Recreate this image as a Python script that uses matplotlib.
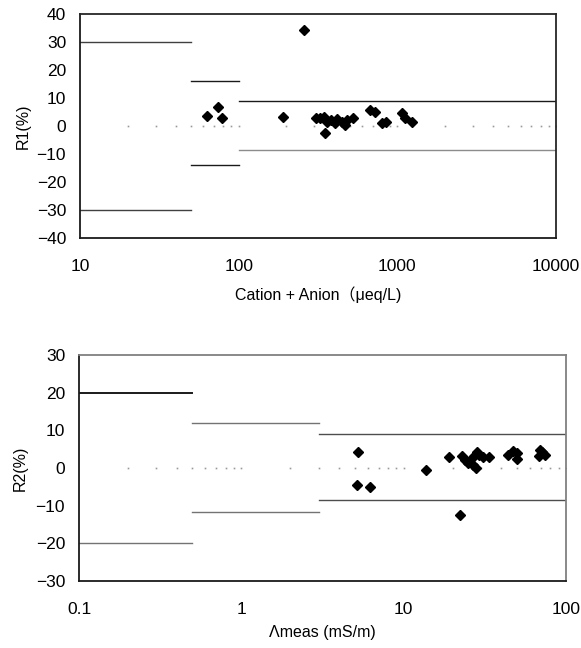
import matplotlib.pyplot as plt
import numpy as np

plt.rcParams['font.family'] = ['Liberation Sans', 'Noto Sans CJK JP', 'DejaVu Sans']

# top panel: R1 vs total ions
ions = [62.8, 74.4, 78.5, 189, 259, 307, 325, 344, 358, 350, 380, 405, 414, 445, 468,
        483, 522, 672, 722, 796, 848, 1064, 1117, 1231]
r1 = [3.6, 6.7, 2.75, 3.3, 34.3, 2.75, 2.9, 3.3, 1.5, -2.6, 2.1, 1.0, 2.5, 1.5, 0.4,
      2.1, 2.75, 5.7, 5.1, 1.0, 1.3, 4.5, 2.75, 1.5]
# allowable ranges (x from, x to, upper, lower)
r1_lim_x = [(10, 50), (50, 100), (100, 10000)]
r1_lim_hi = [30, 16, 9]
r1_lim_lo = [-30, -14, -8.7]
ref_x1 = [20, 30, 40, 50, 60, 70, 80, 90, 100, 200, 300, 400, 500, 600, 700, 800, 900,
          1000, 2000, 3000, 4000, 5000, 6000, 7000, 8000, 9000, 10000]

# bottom panel: R2 vs conductivity
cond = [5.21, 5.13, 6.21, 13.7, 19.1, 22.3, 22.8, 23.9, 25.0, 26.2, 28.1, 27.8, 26.9,
        29.3, 30.7, 33.4, 44.2, 47.4, 49.7, 50.1, 69.2, 68.6, 74.6, 71.4]
r2 = [4.2, -4.5, -5.0, -0.5, 2.8, -12.5, 3.2, 2.1, 1.2, 2.6, 4.2, -0.1, 0.8,
      3.5, 3.0, 2.8, 3.5, 4.6, 3.9, 2.4, 4.8, 3.2, 3.5, 4.3]
r2_lim_x = [(0.1, 0.5), (0.5, 3), (3, 100)]
r2_lim_hi = [20, 12, 9]
r2_lim_lo = [-20, -11.8, -8.4]
ref_x2 = [0.2, 0.3, 0.4, 0.5, 0.6, 0.7, 0.8, 0.9, 1, 2, 3, 4, 5, 6, 7, 8, 9, 10,
          20, 30, 40, 50, 60, 70, 80, 90, 100]

W, H = 581, 648
fig = plt.figure(figsize=(W / 100, H / 100), dpi=100)
ax1 = fig.add_axes([80 / W, (H - 238) / H, 476 / W, 224 / H])
ax2 = fig.add_axes([79 / W, (H - 581) / H, 487 / W, 226 / H])

hi_cols1 = ['0.25', '0.1', '0.1']
lo_cols1 = ['0.25', '0.1', '0.55']
hi_cols2 = ['0.1', '0.45', '0.3']
lo_cols2 = ['0.45', '0.45', '0.3']

for (x0, x1), hi, lo, ch, cl in zip(r1_lim_x, r1_lim_hi, r1_lim_lo, hi_cols1, lo_cols1):
    ax1.plot([x0, x1], [hi, hi], color=ch, lw=1.0)
    ax1.plot([x0, x1], [lo, lo], color=cl, lw=1.0)
for (x0, x1), hi, lo, ch, cl in zip(r2_lim_x, r2_lim_hi, r2_lim_lo, hi_cols2, lo_cols2):
    ax2.plot([x0, x1], [hi, hi], color=ch, lw=1.4 if ch == '0.1' else 1.0)
    ax2.plot([x0, x1], [lo, lo], color=cl, lw=1.0)

ax1.plot(ref_x1, np.zeros(len(ref_x1)), ls='none', marker='s', ms=1.2, color='0.6', mew=0)
ax2.plot(ref_x2, np.zeros(len(ref_x2)), ls='none', marker='s', ms=1.2, color='0.6', mew=0)

ax1.plot(ions, r1, ls='none', marker='D', ms=5.5, color='black')
ax2.plot(cond, r2, ls='none', marker='D', ms=5.5, color='black')

ax1.set_xscale('log')
ax1.set_xlim(10, 10000)
ax1.set_ylim(-40, 40)
ax1.set_yticks(range(-40, 41, 10))
ax1.set_xticks([10, 100, 1000, 10000])
ax1.set_xticklabels(['10', '100', '1000', '10000'])
ax1.set_xlabel('Cation + Anion（μeq/L)', fontsize=11.5, labelpad=9)
ax1.set_ylabel('R1(%)', fontsize=11.5, labelpad=4)

ax2.set_xscale('log')
ax2.set_xlim(0.1, 100)
ax2.set_ylim(-30, 30)
ax2.set_yticks(range(-30, 31, 10))
ax2.set_xticks([0.1, 1, 10, 100])
ax2.set_xticklabels(['0.1', '1', '10', '100'])
ax2.set_xlabel('Λmeas (mS/m)', fontsize=11.5, labelpad=6)
ax2.set_ylabel('R2(%)', fontsize=11.5, labelpad=6)

for ax, edge in [(ax1, '0.15'), (ax2, '0.5')]:
    ax.minorticks_off()
    ax.tick_params(length=0, labelsize=12.5, pad=10)
    ax.tick_params(axis='x', pad=15)
    ax.spines['left'].set_color('0.1')
    ax.spines['bottom'].set_color('0.1')
    ax.spines['top'].set_color(edge)
    ax.spines['right'].set_color(edge)
    for s in ax.spines.values():
        s.set_linewidth(1.3)

fig.savefig('out.png', dpi=100)
